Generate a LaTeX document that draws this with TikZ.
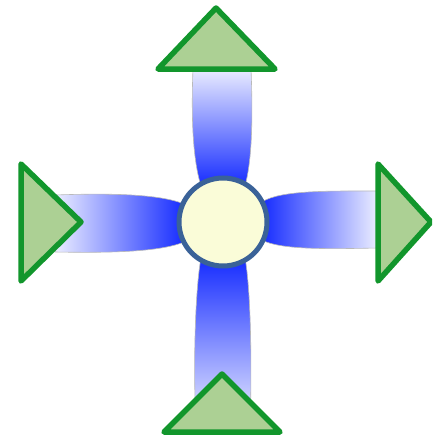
\documentclass[tikz,border=0pt]{standalone}
\usetikzlibrary{calc}

\definecolor{armlight}{RGB}{236,238,255}
\definecolor{armmid}{RGB}{128,142,255}
\definecolor{armdark}{RGB}{22,44,255}
\definecolor{headfill}{RGB}{172,208,148}
\definecolor{headline}{RGB}{18,150,44}
\definecolor{hubfill}{RGB}{250,252,216}
\definecolor{hubline}{RGB}{58,98,152}

\begin{document}
\begin{tikzpicture}[x=1pt,y=-1pt,
  arm/.style={draw=gray!55,line width=0.6pt},
  head/.style={draw=headline,fill=headfill,line width=5.5pt,line join=round},
  hub/.style={circle,draw=hubline,fill=hubfill,line width=5pt,minimum size=88pt,inner sep=0pt}]

% picture frame
\clip (0,0) rectangle (432,439);

% ---------------- ARMS ----------------
% top arm
\draw[arm,top color=armlight,middle color=armmid,bottom color=armdark]
  (193,68) .. controls (191,120) and (193,160) .. (201,186)
  -- (245,186) .. controls (252,160) and (253,120) .. (251,68) -- cycle;

% bottom arm
\draw[arm,bottom color=armlight,middle color=armmid,top color=armdark]
  (196,425) .. controls (193,370) and (195,290) .. (201,258)
  -- (245,258) .. controls (251,290) and (252,370) .. (250,425) -- cycle;

% left arm
\draw[arm,left color=armlight,middle color=armmid,right color=armdark]
  (55,195) .. controls (110,193) and (160,194) .. (184,204)
  -- (184,242) .. controls (160,252) and (110,253) .. (55,252) -- cycle;

% right arm
\draw[arm,right color=armlight,middle color=armmid,left color=armdark]
  (378,191) .. controls (330,191) and (280,190) .. (262,202)
  -- (262,240) .. controls (280,250) and (330,249) .. (378,248) -- cycle;

% ---------------- HUB ----------------
\node[hub] (hub) at (223,222) {};

% ---------------- HEADS ----------------
\draw[head] (216,8) -- (275,69) -- (158,69) -- cycle;
\draw[head] (222,374) -- (280,432) -- (164,432) -- cycle;
\draw[head] (81,222) -- (21,281) -- (21,164) -- cycle;
\draw[head] (431,222) -- (378,281) -- (378,164) -- cycle;

\end{tikzpicture}
\end{document}
